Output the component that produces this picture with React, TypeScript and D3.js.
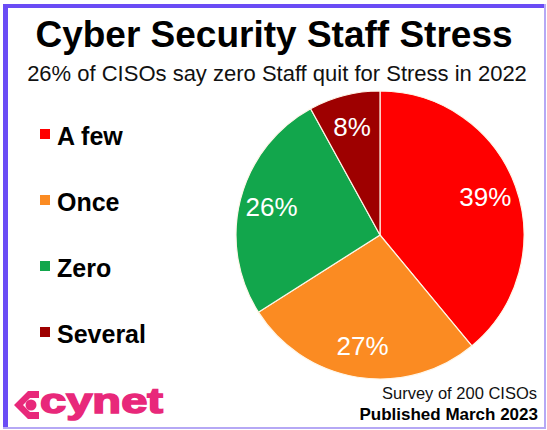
import * as d3 from "d3";

const categories = ["A few", "Once", "Zero", "Several"];
const shares = [39, 27, 26, 8];
const colors = ["#ff0000", "#fb8b22", "#12a64c", "#9e0000"];

const W = 547;
const H = 430;
const cx = 380;
const cy = 235;
const R = 144;

const App = () => {
  const pie = d3
    .pie<number>()
    .sort(null)
    .value((d) => d);
  const arcs = pie(shares);
  const arc = d3.arc<d3.PieArcDatum<number>>().innerRadius(0).outerRadius(R);
  const labelArc = d3
    .arc<d3.PieArcDatum<number>>()
    .innerRadius(112)
    .outerRadius(112);

  const legendY = d3
    .scalePoint<string>()
    .domain(categories)
    .range([145, 343]);

  const font = "'Liberation Sans', Arial, sans-serif";

  return (
    <svg
      width={W}
      height={H}
      style={{ position: "absolute", left: 0, top: 0, fontFamily: font }}
    >
      <rect x={0} y={0} width={W} height={H} fill="#ffffff" />
      {/* frame */}
      <rect x={3} y={4} width={5} height={425} fill="#6a4cf5" />
      <rect x={3} y={4} width={543} height={4} fill="#6a4cf5" />
      <rect x={544} y={4} width={2} height={425} fill="#b5a8f5" />
      <rect x={3} y={427} width={543} height={2} fill="#b5a8f5" />

      <text
        x={274}
        y={47}
        textAnchor="middle"
        fontSize={37}
        fontWeight="bold"
        fill="#000"
      >
        Cyber Security Staff Stress
      </text>
      <text x={277} y={81} textAnchor="middle" fontSize={22} fill="#111">
        26% of CISOs say zero Staff quit for Stress in 2022
      </text>

      {/* legend */}
      {categories.map((c, i) => (
        <g key={c}>
          <rect
            x={40}
            y={(legendY(c) ?? 0) - 16}
            width={10}
            height={10}
            fill={colors[i]}
          />
          <text
            x={57}
            y={legendY(c)}
            fontSize={25}
            fontWeight="bold"
            fill="#000"
          >
            {c}
          </text>
        </g>
      ))}

      {/* pie */}
      <g transform={`translate(${cx},${cy})`}>
        {arcs.map((a, i) => (
          <path
            key={i}
            d={arc(a) ?? ""}
            fill={colors[i]}
            stroke="#fff6e8"
            strokeWidth={1.2}
          />
        ))}
        {arcs.map((a, i) => {
          const [x, y] = labelArc.centroid(a);
          return (
            <text
              key={"l" + i}
              x={x}
              y={y}
              dy="0.35em"
              textAnchor="middle"
              fontSize={26}
              fill="#fff"
            >
              {shares[i]}%
            </text>
          );
        })}
      </g>

      {/* cynet logo */}
      <g fill="#e8287a">
        <path d="M14,405 L28,391 L39,391 L39,398 L30,398 L23,405 L30,412 L39,412 L39,419 L28,419 Z" />
        <circle cx={31} cy={405} r={5.5} />
      </g>
      <text
        x={40}
        y={413}
        fontSize={35}
        fontWeight="bold"
        fill="#e8287a"
        stroke="#e8287a"
        strokeWidth={1.6}
        textLength={123}
        lengthAdjust="spacingAndGlyphs"
      >
        cynet
      </text>

      <text x={537} y={399} textAnchor="end" fontSize={16.5} fill="#111">
        Survey of 200 CISOs
      </text>
      <text
        x={538}
        y={420}
        textAnchor="end"
        fontSize={17}
        fontWeight="bold"
        fill="#000"
      >
        Published March 2023
      </text>
    </svg>
  );
};

export default App;
